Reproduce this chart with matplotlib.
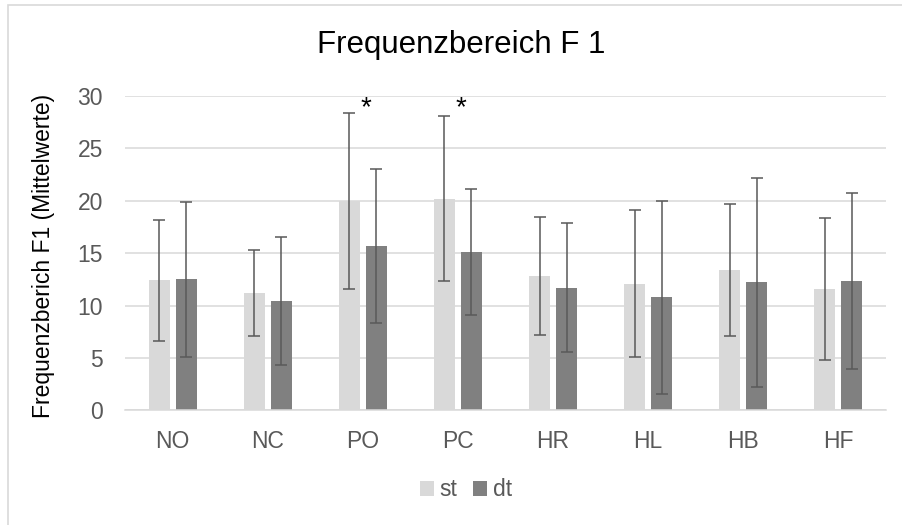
import matplotlib.pyplot as plt
from matplotlib.patches import Rectangle
import numpy as np

plt.rcParams['font.family'] = ['Liberation Sans', 'DejaVu Sans']

categories = ['NO', 'NC', 'PO', 'PC', 'HR', 'HL', 'HB', 'HF']
st_mean = [12.4, 11.2, 20.0, 20.2, 12.8, 12.1, 13.4, 11.6]
st_sd = [5.8, 4.1, 8.4, 7.85, 5.65, 7.05, 6.3, 6.8]
dt_mean = [12.5, 10.4, 15.7, 15.1, 11.7, 10.8, 12.2, 12.3]
dt_sd = [7.4, 6.1, 7.35, 6.05, 6.15, 9.2, 10.0, 8.4]
significant = ['PO', 'PC']

GRID = '#d9d9d9'
TEXT = '#595959'

fig = plt.figure(figsize=(9.03, 5.25), dpi=100)
ax = fig.add_axes([125 / 903, 1 - 410.3 / 525, 761 / 903, 314.3 / 525])

# outer chart frame (top and left edges visible)
fig.patches.append(Rectangle((8 / 903, -0.1), 1.2, 1 - 5 / 525 + 0.1,
                             transform=fig.transFigure, fill=False,
                             edgecolor=GRID, linewidth=1.2))

x = np.arange(len(categories))
w = 0.22
off = 0.142
err_style = dict(ecolor='#595959', elinewidth=1.1, capsize=4, capthick=1.1)
ax.bar(x - off, st_mean, w, color='#d9d9d9', yerr=st_sd, error_kw=err_style,
       label='st', zorder=2)
ax.bar(x + off, dt_mean, w, color='#808080', yerr=dt_sd, error_kw=err_style,
       label='dt', zorder=2)

for cat in significant:
    i = categories.index(cat)
    ax.text(i + 0.03, 28.8, '*', ha='center', va='center', fontsize=20,
            color='black')

ax.set_xlim(-0.5, len(categories) - 0.5)
ax.set_ylim(0, 30)
ax.set_yticks(range(0, 31, 5))
ax.set_xticks(x)
ax.set_xticklabels(categories)
ax.grid(axis='y', color=GRID, linewidth=1.1, zorder=0)
ax.set_axisbelow(True)
for side in ['top', 'right', 'left']:
    ax.spines[side].set_visible(False)
ax.spines['bottom'].set_color(GRID)
ax.spines['bottom'].set_linewidth(1.1)
ax.tick_params(axis='both', length=0, labelsize=16.5, colors=TEXT)
ax.tick_params(axis='x', pad=14)
ax.tick_params(axis='y', pad=16)

fig.text(44 / 903, 1 - 256 / 525, 'Frequenzberich F1 (Mittelwerte)',
         rotation=90, ha='center', va='center', fontsize=16.5, color='black')
fig.text(0.511, 1 - 45 / 525, 'Frequenzbereich F 1', ha='center', va='center',
         fontsize=22.5, color='black')

ax.legend(loc='center', bbox_to_anchor=(466 / 903, 1 - 490 / 525),
          bbox_transform=fig.transFigure, ncol=2, frameon=False,
          fontsize=16.5, labelcolor=TEXT, handlelength=0.6, handleheight=0.6,
          handletextpad=0.25, columnspacing=0.7)

fig.savefig('out.png', dpi=100)
